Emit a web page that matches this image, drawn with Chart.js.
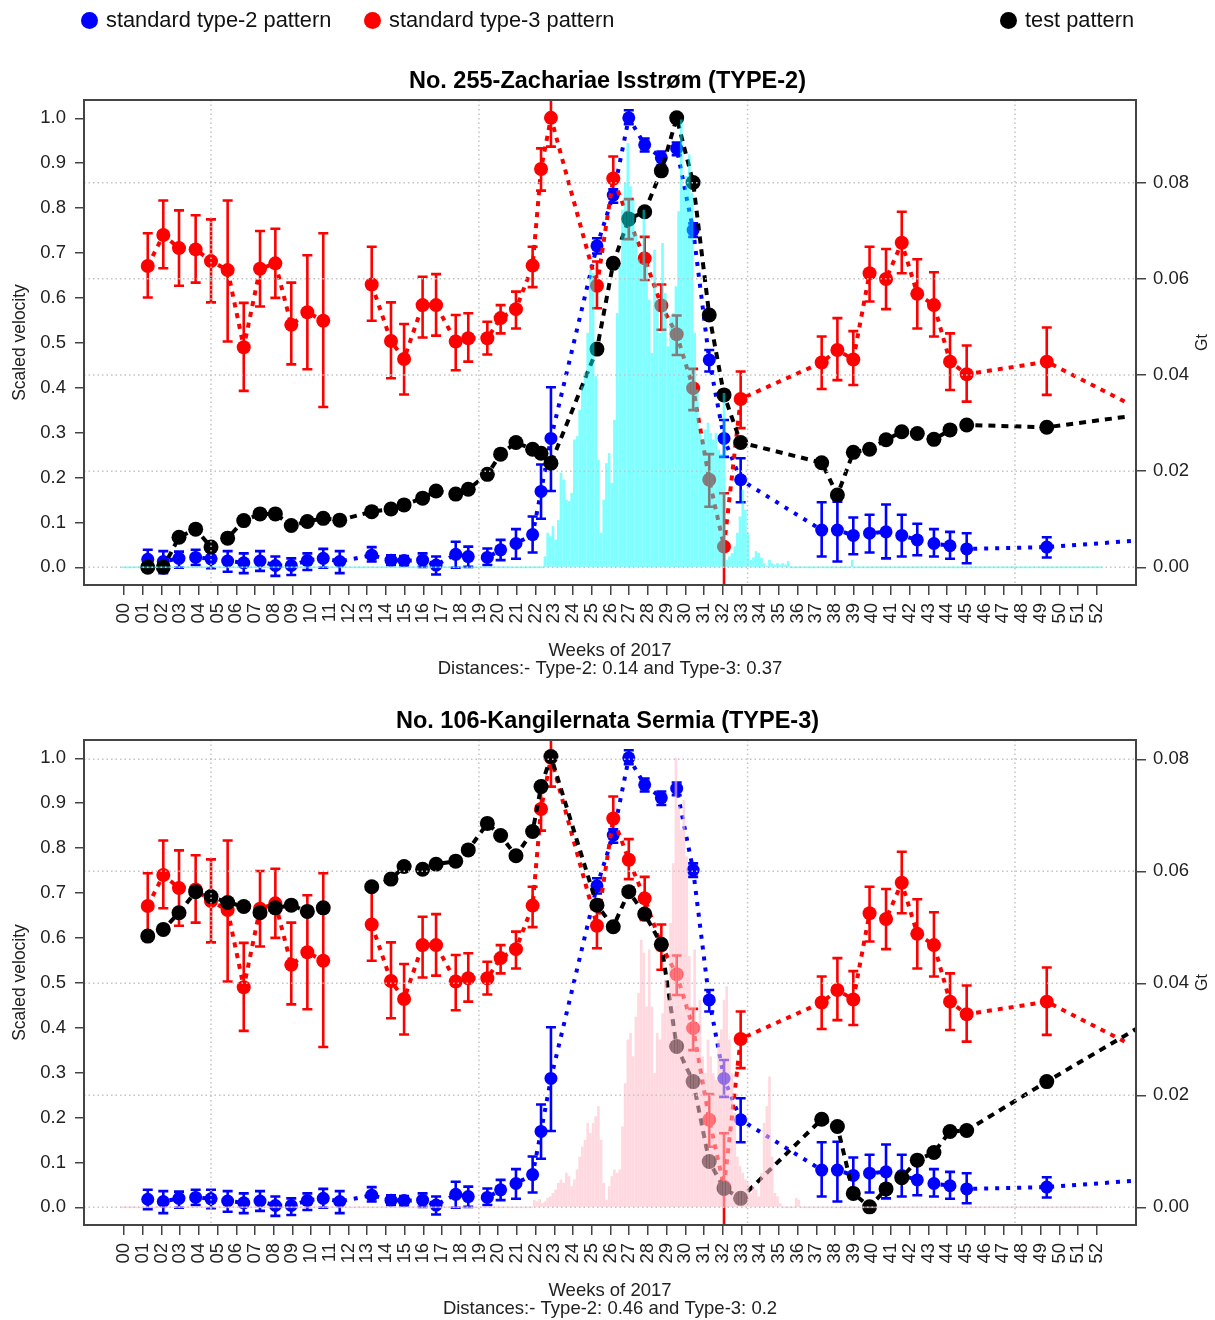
<!DOCTYPE html>
<html>
<head>
<meta charset="utf-8">
<script src="https://cdn.jsdelivr.net/npm/chart.js@4"></script>
<style>
  html, body { margin: 0; padding: 0; background: #fff; overflow: hidden; }
  body { position: relative; width: 1215px; height: 1320px; font-family: "Liberation Sans", Arial, sans-serif; }
  .panel { position: absolute; left: 0; width: 1215px; height: 690px; }
  .item { position: absolute; top: 8px; font-size: 21.8px; line-height: 24px; color: #111; white-space: nowrap; }
  .item span { display: inline-block; width: 17px; height: 17px; border-radius: 50%; margin-right: 8px; vertical-align: -2px; }
</style>
</head>
<body>
<div class="panel" style="top:0"><canvas id="panel255"></canvas></div>
<div class="panel" style="top:640px"><canvas id="panel106"></canvas></div>
<div class="item" style="left:81px"><span style="background:#0000ff"></span>standard type-2 pattern</div>
<div class="item" style="left:364px"><span style="background:#ff0000"></span>standard type-3 pattern</div>
<div class="item" style="left:1000px"><span style="background:#000"></span>test pattern</div>
<script>
const FONT = '"Liberation Sans", Arial, sans-serif';

const weekLabels = ["00","01","02","03","04","05","06","07","08","09","10","11","12","13","14","15","16","17","18","19",
  "20","21","22","23","24","25","26","27","28","29","30","31","32","33","34","35","36","37","38","39",
  "40","41","42","43","44","45","46","47","48","49","50","51","52"];
const velTicks = [0, 0.1, 0.2, 0.3, 0.4, 0.5, 0.6, 0.7, 0.8, 0.9, 1.0];
const gtTicks = [0, 0.02, 0.04, 0.06, 0.08];
const gridWeeks = [4.65, 18.97, 33.33, 47.62];

// observation dates (in weeks of 2017)
const obsWeeks = [1.27, 2.10, 2.94, 3.83, 4.65, 5.54, 6.40, 7.27, 8.09, 8.94,
  9.80, 10.65, 11.53, 13.24, 14.27, 14.97, 15.96, 16.68, 17.73, 18.40,
  19.42, 20.13, 20.95, 21.84, 22.29, 22.82, 25.28, 26.15, 26.98, 27.83,
  28.72, 29.54, 30.42, 31.28, 32.07, 32.96, 37.29, 38.13, 38.98, 39.85,
  40.73, 41.57, 42.40, 43.29, 44.15, 45.04, 49.32];

// standard type-2 pattern
const type2Vel = [0.018, 0.013, 0.020, 0.022, 0.019, 0.014, 0.010, 0.014, 0.004, 0.004,
  0.015, 0.020, 0.013, 0.027, 0.016, 0.015, 0.016, 0.005, 0.029, 0.024,
  0.022, 0.039, 0.053, 0.073, 0.169, 0.287, 0.716, 0.829, 1.001, 0.941,
  0.912, 0.933, 0.751, 0.462, 0.287, 0.195, 0.083, 0.083, 0.071, 0.076,
  0.079, 0.071, 0.061, 0.053, 0.048, 0.041, 0.045];
const type2Lo = [-0.004, -0.013, -0.001, 0.005, -0.002, -0.010, -0.013, -0.008, -0.019, -0.017,
  -0.006, -0.001, -0.013, 0.013, 0.005, 0.004, 0.001, -0.016, -0.001, 0.001,
  0.005, 0.016, 0.019, 0.033, 0.108, 0.170, 0.699, 0.812, 0.987, 0.926,
  0.896, 0.918, 0.736, 0.436, 0.246, 0.145, 0.024, 0.013, 0.029, 0.033,
  0.020, 0.024, 0.027, 0.024, 0.019, 0.009, 0.022];
const type2Hi = [0.039, 0.036, 0.035, 0.039, 0.039, 0.036, 0.031, 0.036, 0.024, 0.020,
  0.031, 0.041, 0.036, 0.045, 0.027, 0.025, 0.031, 0.024, 0.057, 0.046,
  0.042, 0.061, 0.085, 0.113, 0.229, 0.401, 0.733, 0.842, 1.018, 0.955,
  0.926, 0.946, 0.766, 0.484, 0.328, 0.243, 0.145, 0.146, 0.111, 0.117,
  0.140, 0.117, 0.097, 0.085, 0.079, 0.076, 0.067];
const type2Tail = [54.3, 0.060];

// standard type-3 pattern
const type3Vel = [0.671, 0.740, 0.711, 0.708, 0.682, 0.662, 0.490, 0.665, 0.677, 0.540,
  0.568, 0.549, null, 0.630, 0.504, 0.464, 0.584, 0.584, 0.503, 0.510,
  0.510, 0.555, 0.575, 0.672, 0.887, 1.001, 0.627, 0.866, 0.774, 0.688,
  0.583, 0.519, 0.399, 0.195, 0.046, 0.375, 0.456, 0.484, 0.463, 0.655,
  0.642, 0.723, 0.609, 0.584, 0.458, 0.430, 0.458];
const type3Lo = [0.601, 0.666, 0.627, 0.634, 0.590, 0.503, 0.393, 0.581, 0.600, 0.452,
  0.441, 0.357, null, 0.549, 0.421, 0.385, 0.512, 0.516, 0.439, 0.458,
  0.474, 0.521, 0.532, 0.624, 0.839, 0.937, 0.577, 0.822, 0.731, 0.640,
  0.529, 0.473, 0.350, 0.135, -0.060, 0.310, 0.397, 0.417, 0.406, 0.592,
  0.575, 0.655, 0.532, 0.514, 0.395, 0.369, 0.384];
const type3Hi = [0.744, 0.817, 0.795, 0.784, 0.775, 0.817, 0.589, 0.749, 0.754, 0.634,
  0.695, 0.744, null, 0.714, 0.590, 0.542, 0.647, 0.653, 0.562, 0.566,
  0.547, 0.584, 0.614, 0.714, 0.933, 1.060, 0.681, 0.915, 0.820, 0.736,
  0.630, 0.561, 0.442, 0.252, 0.165, 0.436, 0.514, 0.555, 0.526, 0.714,
  0.709, 0.792, 0.686, 0.657, 0.521, 0.494, 0.534];
const type3Tail = [53.68, 0.365];

// test patterns
const test255Vel = [0.000, 0.000, 0.067, 0.085, 0.045, 0.065, 0.104, 0.119, 0.119, 0.093,
  0.102, 0.109, 0.105, 0.124, 0.130, 0.139, 0.154, 0.170, 0.163, 0.174,
  0.207, 0.252, 0.278, 0.263, 0.254, 0.232, 0.486, 0.677, 0.776, 0.792,
  0.883, 1.001, 0.857, 0.562, 0.384, 0.278, 0.233, 0.161, 0.256, 0.263,
  0.284, 0.302, 0.298, 0.285, 0.306, 0.317, 0.312];
const test255Tail = [53.68, 0.336];
const test106Vel = [0.604, 0.619, 0.656, 0.703, 0.692, 0.679, 0.670, 0.656, 0.667, 0.673,
  0.659, 0.667, null, 0.714, 0.731, 0.759, 0.753, 0.764, 0.771, 0.796,
  0.855, 0.828, 0.783, 0.837, 0.937, 1.004, 0.673, 0.625, 0.703, 0.653,
  0.586, 0.358, 0.280, 0.102, 0.042, 0.020, 0.196, 0.180, 0.031, 0.001,
  0.041, 0.066, 0.105, 0.122, 0.169, 0.171, 0.280];
const test106Tail = [54.3, 0.402];

// daily mass loss (Gt); day 0 = week 0.0714
const gtDay0Week = 0.0714;
const gtFirstDay = -1, gtLastDay = 365;
const gt255FromDay = 157;
const gt255 = [0.0022, 0.0071, 0.0064, 0.0085, 0.0057, 0.0098, 0.0196, 0.0182, 0.0140, 0.0137,
  0.0154, 0.0265, 0.0272, 0.0327, 0.0376, 0.0404, 0.0487, 0.0619, 0.0612, 0.0397,
  0.0223, 0.0071, 0.0140, 0.0216, 0.0237, 0.0175, 0.0306, 0.0528, 0.0625, 0.0743,
  0.0799, 0.0882, 0.0792, 0.0764, 0.0695, 0.0640, 0.0632, 0.0743, 0.0632, 0.0556,
  0.0445, 0.0660, 0.0556, 0.0487, 0.0674, 0.0570, 0.0459, 0.0521, 0.0528, 0.0584,
  0.0740, 0.0931, 0.0785, 0.0813, 0.0858, 0.0778, 0.0487, 0.0369, 0.0279, 0.0265,
  0.0286, 0.0300, 0.0279, 0.0265, 0.0279, 0.0244, 0.0235, 0.0362, 0.0015, 0.0022,
  0.0029, 0.0043, 0.0071, 0.0105, 0.0161, 0.0119, 0.0071, 0.0015, 0.0020, 0.0033,
  0.0029, 0.0019, 0.0008, 0.0001, 0.0015, 0.0008, 0.0005, 0.0008, 0.0005, 0.0008,
  0.0005, 0.0012];
const gt255Extra = [[272, 0.0015]];
const gt106FromDay = 153;
const gt106 = [0.0013, 0.0010, 0.0014, 0.0007, 0.0010, 0.0016, 0.0019, 0.0025, 0.0031, 0.0043,
  0.0049, 0.0043, 0.0061, 0.0055, 0.0037, 0.0049, 0.0067, 0.0090, 0.0108, 0.0120,
  0.0150, 0.0132, 0.0150, 0.0162, 0.0180, 0.0120, 0.0043, 0.0013, 0.0037, 0.0055,
  0.0067, 0.0061, 0.0067, 0.0144, 0.0221, 0.0299, 0.0311, 0.0269, 0.0340, 0.0382,
  0.0477, 0.0454, 0.0358, 0.0460, 0.0358, 0.0239, 0.0311, 0.0299, 0.0346, 0.0406,
  0.0370, 0.0507, 0.0614, 0.0802, 0.0715, 0.0674, 0.0727, 0.0626, 0.0448, 0.0358,
  0.0460, 0.0329, 0.0370, 0.0269, 0.0239, 0.0299, 0.0269, 0.0239, 0.0227, 0.0299,
  0.0317, 0.0370, 0.0394, 0.0299, 0.0239, 0.0168, 0.0090, 0.0073, 0.0061, 0.0049,
  0.0043, 0.0025, 0.0037, 0.0031, 0.0019, 0.0061, 0.0150, 0.0180, 0.0233, 0.0090,
  0.0025, 0.0019, 0.0007, 0, 0, 0, 0, 0, 0.0016, 0.0013];
const gt106Extra = [];

function dailyBars(values, fromDay, extra) {
  const out = [];
  for (let d = gtFirstDay; d <= gtLastDay; d++) {
    let v = 0;
    if (d >= fromDay && d < fromDay + values.length) v = values[d - fromDay];
    extra.forEach(e => { if (e[0] === d) v = e[1]; });
    out.push({ x: gtDay0Week + d / 7, y: v });
  }
  return out;
}

function seriesPoints(vals, tail) {
  const pts = obsWeeks.map((w, i) => ({ x: w, y: vals[i] }));
  pts.push({ x: tail[0], y: tail[1] });
  return pts;
}

function radii(r) {
  return obsWeeks.map(() => r).concat([0]);
}

const errorBars = {
  id: 'errorBars',
  beforeDatasetsDraw(chart) {
    const { ctx, chartArea: a, scales: { x, y } } = chart;
    ctx.save();
    ctx.beginPath();
    ctx.rect(a.left, a.top, a.width, a.height);
    ctx.clip();
    chart.data.datasets.forEach(ds => {
      if (!ds.errLo) return;
      ctx.strokeStyle = ds.borderColor;
      ctx.lineWidth = 2.6;
      ds.errLo.forEach((lo, i) => {
        const hi = ds.errHi[i];
        if (lo == null || hi == null) return;
        const px = x.getPixelForValue(obsWeeks[i]);
        const p1 = y.getPixelForValue(lo), p2 = y.getPixelForValue(hi);
        ctx.beginPath();
        ctx.moveTo(px, p1); ctx.lineTo(px, p2);
        ctx.moveTo(px - 5, p1); ctx.lineTo(px + 5, p1);
        ctx.moveTo(px - 5, p2); ctx.lineTo(px + 5, p2);
        ctx.stroke();
      });
    });
    ctx.restore();
  }
};

const gridAndFrame = {
  id: 'gridAndFrame',
  afterDatasetsDraw(chart) {
    const { ctx, chartArea: a, scales: { x, y2 } } = chart;
    ctx.save();
    ctx.strokeStyle = '#c4c4c4';
    ctx.lineWidth = 1.5;
    ctx.setLineDash([1.5, 3]);
    gtTicks.forEach(v => {
      const py = y2.getPixelForValue(v);
      ctx.beginPath(); ctx.moveTo(a.left, py); ctx.lineTo(a.right, py); ctx.stroke();
    });
    gridWeeks.forEach(w => {
      const px = x.getPixelForValue(w);
      ctx.beginPath(); ctx.moveTo(px, a.top); ctx.lineTo(px, a.bottom); ctx.stroke();
    });
    ctx.setLineDash([]);
    ctx.strokeStyle = '#444';
    ctx.lineWidth = 2;
    ctx.strokeRect(a.left, a.top, a.width, a.height);
    // right axis title, reading bottom to top
    ctx.translate(1203, (a.top + a.bottom) / 2);
    ctx.rotate(-Math.PI / 2);
    ctx.fillStyle = '#222';
    ctx.font = '16px ' + FONT;
    ctx.textAlign = 'center';
    ctx.textBaseline = 'middle';
    ctx.fillText('Gt', 0, 0);
    ctx.restore();
  }
};

const tickGrid = (len) => ({ display: true, drawOnChartArea: false, drawTicks: true, tickLength: len, color: '#444', lineWidth: 1.5 });

function makePanel(id, p) {
  return new Chart(document.getElementById(id), {
    type: 'line',
    data: {
      datasets: [
        {
          type: 'bar', label: 'Gt', yAxisID: 'y2', order: 0,
          data: dailyBars(p.gt, p.gtFrom, p.gtExtra),
          backgroundColor: p.barColor, borderWidth: 0, barThickness: 2, minBarLength: 1
        },
        {
          label: 'test pattern', yAxisID: 'y', order: 1,
          data: seriesPoints(p.test, p.testTail),
          borderColor: '#000000', borderWidth: 4, borderDash: [7, 6],
          pointRadius: radii(7.5), pointBackgroundColor: '#000000', pointBorderWidth: 0
        },
        {
          label: 'standard type-3 pattern', yAxisID: 'y', order: 2,
          data: seriesPoints(type3Vel, type3Tail), errLo: type3Lo, errHi: type3Hi,
          borderColor: '#ff0000', borderWidth: 4, borderDash: [5, 6],
          pointRadius: radii(7), pointBackgroundColor: '#ff0000', pointBorderWidth: 0
        },
        {
          label: 'standard type-2 pattern', yAxisID: 'y', order: 3,
          data: seriesPoints(type2Vel, type2Tail), errLo: type2Lo, errHi: type2Hi,
          borderColor: '#0000ff', borderWidth: 4, borderDash: [4, 7],
          pointRadius: radii(6.5), pointBackgroundColor: '#0000ff', pointBorderWidth: 0
        }
      ]
    },
    options: {
      responsive: true,
      maintainAspectRatio: false,
      animation: false,
      events: [],
      spanGaps: false,
      layout: { padding: 0 },
      plugins: {
        legend: { display: false },
        tooltip: { enabled: false },
        title: {
          display: true, text: p.title, color: '#000',
          font: { family: FONT, size: 23.5, weight: 'bold', lineHeight: 1.2 },
          padding: { top: 67.9, bottom: 3.9 }
        }
      },
      scales: {
        x: {
          type: 'linear', position: 'bottom', min: -2.138, max: 54.09, offset: false,
          grid: Object.assign(tickGrid(10), { offset: false }),
          border: { display: false },
          afterBuildTicks: s => { s.ticks = weekLabels.map((_, i) => ({ value: i })); },
          afterFit: s => { s.height = 105; },
          ticks: {
            autoSkip: false, minRotation: 90, maxRotation: 90, padding: 8, color: '#222',
            font: { family: FONT, size: 18.5 },
            callback: (v, i) => weekLabels[i]
          },
          title: {
            display: true, text: ['Weeks of 2017', p.distances], color: '#222',
            font: { family: FONT, size: 18.5, lineHeight: 1 },
            padding: { top: 0, bottom: 11.75 }
          }
        },
        y: {
          type: 'linear', position: 'left', min: -0.0394, max: 1.0408,
          grid: tickGrid(9),
          border: { display: false },
          afterBuildTicks: s => { s.ticks = velTicks.map(v => ({ value: v })); },
          afterFit: s => { s.width = 84; },
          ticks: { padding: 9, color: '#222', font: { family: FONT, size: 18.5 }, callback: v => v.toFixed(1) },
          title: {
            display: true, text: 'Scaled velocity', color: '#222',
            font: { family: FONT, size: 17.5, lineHeight: 1.2 },
            padding: { top: 9.5, bottom: 0 }
          }
        },
        y2: {
          type: 'linear', position: 'right', min: p.gtMin, max: p.gtMax,
          grid: tickGrid(10),
          border: { display: false },
          afterBuildTicks: s => { s.ticks = gtTicks.map(v => ({ value: v })); },
          afterFit: s => { s.width = 79; },
          ticks: { padding: 7, color: '#222', font: { family: FONT, size: 18.5 }, callback: v => v.toFixed(2) }
        }
      }
    },
    plugins: [errorBars, gridAndFrame]
  });
}

makePanel('panel255', {
  title: 'No. 255-Zachariae Isstrøm (TYPE-2)',
  distances: 'Distances:- Type-2: 0.14 and Type-3: 0.37',
  test: test255Vel, testTail: test255Tail,
  gt: gt255, gtFrom: gt255FromDay, gtExtra: gt255Extra,
  barColor: 'rgba(0,255,255,0.5)', gtMin: -0.00368, gtMax: 0.0972
});

makePanel('panel106', {
  title: 'No. 106-Kangilernata Sermia (TYPE-3)',
  distances: 'Distances:- Type-2: 0.46 and Type-3: 0.2',
  test: test106Vel, testTail: test106Tail,
  gt: gt106, gtFrom: gt106FromDay, gtExtra: gt106Extra,
  barColor: 'rgba(255,192,203,0.6)', gtMin: -0.00316, gtMax: 0.08345
});
</script>
</body>
</html>
